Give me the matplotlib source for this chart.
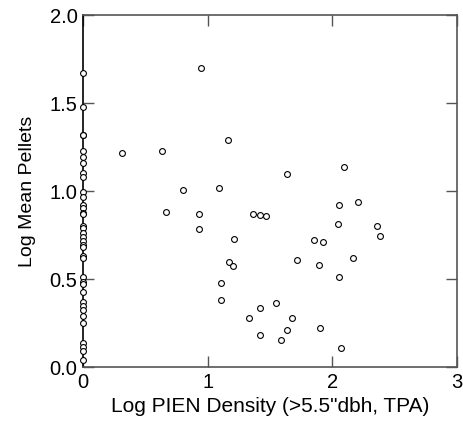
import matplotlib
matplotlib.use("Agg")
import matplotlib.pyplot as plt

plt.rcParams['font.family'] = ['Liberation Sans', 'DejaVu Sans']

# plots with PIEN trees present (x = log density, y = log mean pellets)
x_pien = [0.945, 0.316, 0.637, 1.166, 0.805, 1.089, 0.666, 0.931, 0.928, 1.209,
          1.169, 1.207, 1.105, 1.105, 1.33, 1.362, 1.42, 1.471, 2.052, 2.202,
          2.044, 2.357, 2.386, 1.851, 1.924, 1.715, 1.894, 2.164, 2.057, 1.552,
          1.42, 1.677, 1.64, 1.42, 1.589, 1.902, 2.071, 1.64, 2.095]
y_pien = [1.697, 1.218, 1.229, 1.292, 1.004, 1.019, 0.883, 0.868, 0.782, 0.726,
          0.598, 0.572, 0.477, 0.381, 0.28, 0.869, 0.865, 0.858, 0.922, 0.94,
          0.81, 0.799, 0.743, 0.72, 0.708, 0.608, 0.578, 0.617, 0.511, 0.362,
          0.333, 0.278, 0.21, 0.18, 0.153, 0.223, 0.108, 1.095, 1.135]

# plots with no PIEN (log density = 0)
y_zero = [1.672, 1.476, 1.318, 1.318, 1.229, 1.195, 1.157, 1.104, 1.081, 0.993,
          0.964, 0.920, 0.902, 0.873, 0.867, 0.801, 0.788, 0.760, 0.737, 0.716,
          0.693, 0.684, 0.631, 0.618, 0.513, 0.485, 0.472, 0.428, 0.371, 0.347,
          0.324, 0.290, 0.252, 0.138, 0.116, 0.093, 0.040]
x_zero = [0.0] * len(y_zero)

x_ticks = [0, 1, 2, 3]
y_ticks = [0.0, 0.5, 1.0, 1.5, 2.0]

fig = plt.figure(figsize=(4.63, 4.29), dpi=100)
ax = fig.add_axes([0.1793, 0.1445, 0.8077, 0.8205])

ax.plot(x_pien, y_pien, 'o', mfc='white', mec='black', ms=4.2, mew=0.8,
        clip_on=False, zorder=3)
ax.plot(x_zero, y_zero, 'o', mfc='white', mec='black', ms=4.2, mew=0.8,
        clip_on=False, zorder=3)

ax.set_xlim(0, 3)
ax.set_ylim(0, 2)
ax.set_xticks(x_ticks)
ax.set_yticks(y_ticks)
ax.set_yticklabels(['%.1f' % v for v in y_ticks])
ax.tick_params(direction='in', length=8, width=1, colors='#555555',
               top=True, right=True, labelsize=14.5, labelcolor='black', pad=4)

for s in ax.spines.values():
    s.set_color('#555555')
    s.set_linewidth(1.2)
ax.spines['left'].set_color('black')

ax.set_xlabel('Log PIEN Density (>5.5"dbh, TPA)', fontsize=15, labelpad=4)
ax.set_ylabel('Log Mean Pellets', fontsize=14, labelpad=10)

fig.savefig('out.png', dpi=100)
